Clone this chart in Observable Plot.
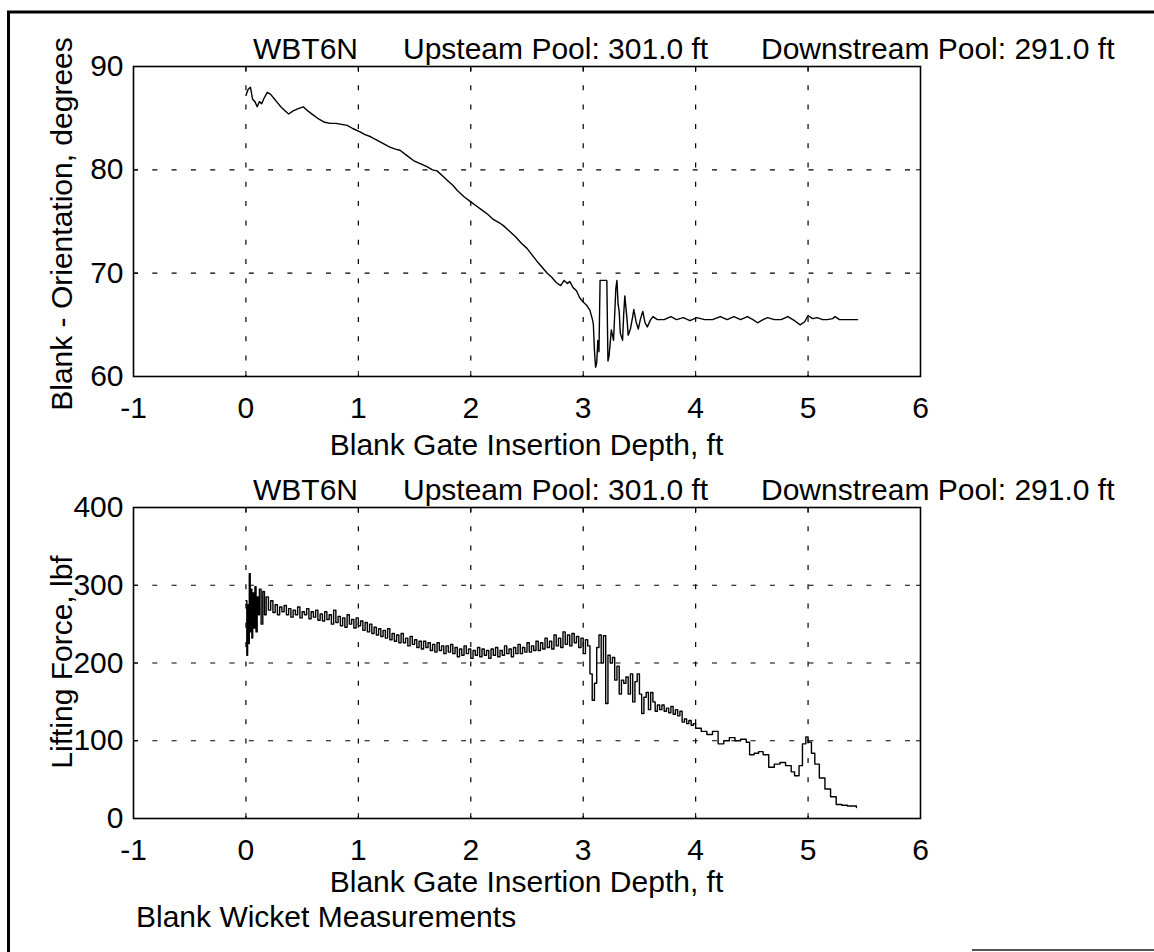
<!DOCTYPE html>
<html>
<head>
<meta charset="utf-8">
<script src="https://cdn.jsdelivr.net/npm/d3@7"></script>
<script src="https://cdn.jsdelivr.net/npm/@observablehq/plot@0.6"></script>
<style>
  html, body { margin: 0; padding: 0; background: #fff; }
  #wrap { position: relative; width: 1154px; height: 952px; overflow: hidden; background: #fff; }
  #wrap > svg { position: absolute; left: 0; }
</style>
</head>
<body>
<div id="wrap"></div>
<script>
// ---------------- data ----------------
const xTicks = [-1, 0, 1, 2, 3, 4, 5, 6];
const angleTicks = [60, 70, 80, 90];
const forceTicks = [0, 100, 200, 300, 400];

const titleParts = ["WBT6N", "Upsteam Pool: 301.0 ft", "Downstream Pool: 291.0 ft"];
const xLabel = "Blank Gate Insertion Depth, ft";
const yLabelTop = "Blank - Orientation, degrees";
const yLabelBottom = "Lifting Force, lbf";
const caption = "Blank Wicket Measurements";

// top panel: orientation (degrees) vs insertion depth (ft)
const angleDepth = [0.00,0.02,0.04,0.06,0.08,0.10,0.12,0.14,0.16,0.19,0.22,0.25,0.28,0.31,0.34,0.38,0.42,0.46,0.51,0.55,
  0.60,0.65,0.70,0.75,0.80,0.85,0.90,0.95,1.01,1.06,1.11,1.16,1.21,1.28,1.33,1.37,1.43,1.49,1.55,1.61,
  1.66,1.70,1.75,1.79,1.84,1.88,1.94,2.00,2.05,2.10,2.15,2.20,2.25,2.29,2.35,2.40,2.45,2.50,2.55,2.60,
  2.64,2.68,2.72,2.76,2.80,2.83,2.86,2.88,2.91,2.94,2.97,3.00,3.03,3.06,3.08,3.09,3.10,3.11,3.12,3.13,
  3.14,3.15,3.18,3.21,3.22,3.23,3.25,3.27,3.29,3.30,3.31,3.32,3.33,3.35,3.36,3.37,3.39,3.40,3.42,3.44,
  3.45,3.47,3.49,3.51,3.53,3.55,3.57,3.60,3.62,3.66,3.72,3.78,3.83,3.89,3.95,4.01,4.08,4.15,4.22,4.28,
  4.34,4.40,4.46,4.51,4.55,4.60,4.64,4.70,4.76,4.82,4.88,4.93,4.97,5.00,5.04,5.08,5.13,5.17,5.22,5.24,
  5.28,5.44];
const angleValue = [87.2,87.8,88.0,86.8,86.6,86.1,86.6,86.4,86.9,87.5,87.3,86.9,86.5,86.1,85.8,85.4,85.7,85.9,86.1,85.7,
  85.3,84.9,84.6,84.5,84.5,84.4,84.3,84.0,83.7,83.4,83.2,82.9,82.6,82.2,82.0,81.9,81.4,80.9,80.6,80.3,
  80.0,79.9,79.4,79.0,78.5,78.0,77.4,76.9,76.5,76.1,75.7,75.2,74.9,74.6,74.0,73.5,72.9,72.4,71.7,71.0,
  70.5,70.0,69.6,69.1,68.8,69.3,69.0,69.2,68.6,68.3,67.6,67.2,66.9,66.4,65.6,65.1,62.5,60.9,61.3,63.5,
  62.4,69.3,69.3,69.3,61.5,62.0,64.5,63.5,68.5,69.3,67.0,66.3,64.2,63.5,66.0,67.8,65.5,64.0,64.6,65.8,
  66.5,65.3,64.6,65.6,66.3,65.2,64.8,65.5,65.8,65.5,65.5,65.8,65.5,65.7,65.4,65.7,65.5,65.5,65.8,65.5,
  65.8,65.5,65.8,65.5,65.2,65.5,65.7,65.5,65.5,65.8,65.4,65.0,65.3,65.9,65.6,65.7,65.5,65.5,65.6,65.8,
  65.5,65.5];

// bottom panel: lifting force (lbf) vs insertion depth (ft)
const forceDepth = [0.000,0.008,0.015,0.022,0.030,0.038,0.045,0.053,0.060,0.070,0.080,0.090,0.100,0.110,0.120,0.135,0.150,0.165,0.180,0.200,
  0.220,0.240,0.260,0.280,0.300,0.320,0.340,0.360,0.380,0.400,0.420,0.440,0.460,0.480,0.500,0.520,0.540,0.560,0.580,0.600,
  0.620,0.640,0.660,0.680,0.700,0.720,0.740,0.760,0.780,0.800,0.820,0.840,0.860,0.880,0.900,0.920,0.940,0.960,0.980,1.000,
  1.020,1.040,1.060,1.080,1.100,1.120,1.140,1.160,1.180,1.200,1.220,1.240,1.260,1.280,1.300,1.320,1.340,1.360,1.380,1.400,
  1.420,1.440,1.460,1.480,1.500,1.520,1.540,1.560,1.580,1.600,1.620,1.640,1.660,1.680,1.700,1.720,1.740,1.760,1.780,1.800,
  1.820,1.840,1.860,1.880,1.900,1.920,1.940,1.960,1.980,2.000,2.020,2.040,2.060,2.080,2.100,2.120,2.140,2.160,2.180,2.200,
  2.220,2.240,2.260,2.280,2.300,2.320,2.340,2.360,2.380,2.400,2.420,2.440,2.460,2.480,2.500,2.520,2.540,2.560,2.580,2.600,
  2.620,2.640,2.660,2.680,2.700,2.720,2.740,2.760,2.780,2.800,2.820,2.840,2.860,2.880,2.900,2.920,2.940,2.960,2.980,3.000,
  3.020,3.040,3.060,3.080,3.100,3.120,3.140,3.160,3.180,3.200,3.220,3.240,3.260,3.280,3.300,3.320,3.340,3.360,3.380,3.400,
  3.420,3.440,3.460,3.480,3.500,3.520,3.540,3.560,3.580,3.600,3.620,3.640,3.660,3.680,3.700,3.720,3.740,3.760,3.780,3.800,
  3.820,3.840,3.860,3.880,3.900,3.920,3.940,3.960,3.980,4.000,4.050,4.100,4.150,4.200,4.250,4.300,4.350,4.400,4.450,4.480,
  4.520,4.560,4.600,4.650,4.700,4.750,4.800,4.850,4.880,4.920,4.950,4.980,5.000,5.030,5.060,5.100,5.150,5.200,5.250,5.300,
  5.350,5.430];
const forceValue = [280,210,275,225,315,240,295,232,290,245,298,240,285,262,295,250,292,262,285,268,
  280,265,275,262,272,266,274,262,270,259,268,262,272,258,266,262,270,257,266,259,
  268,255,263,254,266,256,262,250,268,252,260,248,258,246,262,250,256,245,258,248,
  254,242,252,240,250,238,246,236,244,234,242,232,244,230,238,228,236,226,238,226,
  232,222,234,224,230,220,228,218,228,220,226,216,224,214,226,216,222,212,222,214,
  224,212,220,208,218,210,222,212,218,206,216,210,220,208,218,210,216,206,218,210,
  220,208,216,210,222,212,218,208,220,212,224,212,220,214,226,214,222,216,228,216,
  226,218,232,220,228,218,236,222,232,220,240,224,236,222,238,226,234,220,232,212,
  230,222,186,152,174,220,236,200,235,148,210,200,207,178,196,160,178,174,182,160,
  186,150,176,186,160,135,156,162,140,162,150,138,146,140,146,138,142,136,144,134,
  140,132,138,124,128,122,126,120,122,116,112,108,112,96,100,104,100,102,98,82,
  84,86,82,66,70,72,68,60,55,68,96,105,98,84,70,52,38,28,18,17,
  16,14];

// ---------------- drawing ----------------
const FONT = '"Liberation Sans", Arial, Helvetica, sans-serif';
const FS = 30;
const W = 1154;
const M = {left: 133, right: 234};

const angleRows = angleDepth.map((d, i) => ({depth: d, value: angleValue[i]}));
const forceRows = forceDepth.map((d, i) => ({depth: d, value: forceValue[i]}));

const gridStyle = {stroke: "black", strokeOpacity: 1, strokeWidth: 1.2, strokeDasharray: "5,14.3"};

function panel({rows, yDomain, yTicks, height, marginTop, marginBottom, curve}) {
  return Plot.plot({
    width: W, height, marginTop, marginBottom, marginLeft: M.left, marginRight: M.right,
    style: {fontFamily: FONT, background: "transparent", color: "black", overflow: "visible"},
    x: {domain: [-1, 6]},
    y: {domain: yDomain},
    marks: [
      Plot.gridX(xTicks.slice(1, -1), gridStyle),
      Plot.gridY(yTicks.slice(1, -1), gridStyle),
      Plot.line(rows, {x: "depth", y: "value", stroke: "black", strokeWidth: 1.4, curve}),
      Plot.frame({stroke: "black", strokeWidth: 1.6}),
      Plot.axisX(xTicks, {anchor: "bottom", tickSize: -5, tickPadding: 25, fontSize: FS, label: null, tickFormat: d => String(d)}),
      Plot.axisX(xTicks, {anchor: "top", tickSize: -5, fontSize: FS, label: null, tickFormat: () => ""}),
      Plot.axisY(yTicks, {anchor: "left", tickSize: -5, tickPadding: 15, fontSize: FS, label: null, tickFormat: d => String(d)}),
      Plot.axisY(yTicks, {anchor: "right", tickSize: -5, fontSize: FS, label: null, tickFormat: () => ""})
    ]
  });
}

const wrap = document.getElementById("wrap");

const topPanel = panel({rows: angleRows, yDomain: [60, 90], yTicks: angleTicks, height: 470, marginTop: 66, marginBottom: 94, curve: "linear"});
topPanel.style.top = "0px";
wrap.appendChild(topPanel);

const bottomPanel = panel({rows: forceRows, yDomain: [0, 400], yTicks: forceTicks, height: 482, marginTop: 37, marginBottom: 134, curve: "step-after"});
bottomPanel.style.top = "470px";
wrap.appendChild(bottomPanel);

// overlay: titles, axis titles, caption, page border
const ov = d3.create("svg").attr("width", W).attr("height", 952)
  .style("top", "0px").style("pointer-events", "none")
  .attr("font-family", FONT).attr("font-size", FS).attr("fill", "black");

const titleX = [253, 403, 761];
[59, 500].forEach(by => {
  titleParts.forEach((t, i) => ov.append("text").attr("x", titleX[i]).attr("y", by).text(t));
});
const cx = (M.left + (W - M.right)) / 2;
ov.append("text").attr("x", cx).attr("y", 455).attr("text-anchor", "middle").text(xLabel);
ov.append("text").attr("x", cx).attr("y", 892).attr("text-anchor", "middle").text(xLabel);
ov.append("text").attr("transform", "translate(72,224) rotate(-90)").attr("text-anchor", "middle").text(yLabelTop);
ov.append("text").attr("transform", "translate(72,662) rotate(-90)").attr("text-anchor", "middle").text(yLabelBottom);
ov.append("text").attr("x", 136).attr("y", 927).text(caption);

// scanned page border
ov.append("line").attr("x1", 7).attr("x2", W).attr("y1", 12).attr("y2", 12).attr("stroke", "black").attr("stroke-width", 3);
ov.append("line").attr("x1", 8.5).attr("x2", 8.5).attr("y1", 11).attr("y2", 952).attr("stroke", "black").attr("stroke-width", 3);
ov.append("line").attr("x1", 972).attr("x2", W).attr("y1", 950).attr("y2", 950).attr("stroke", "#555").attr("stroke-width", 2);

wrap.appendChild(ov.node());
</script>
</body>
</html>
